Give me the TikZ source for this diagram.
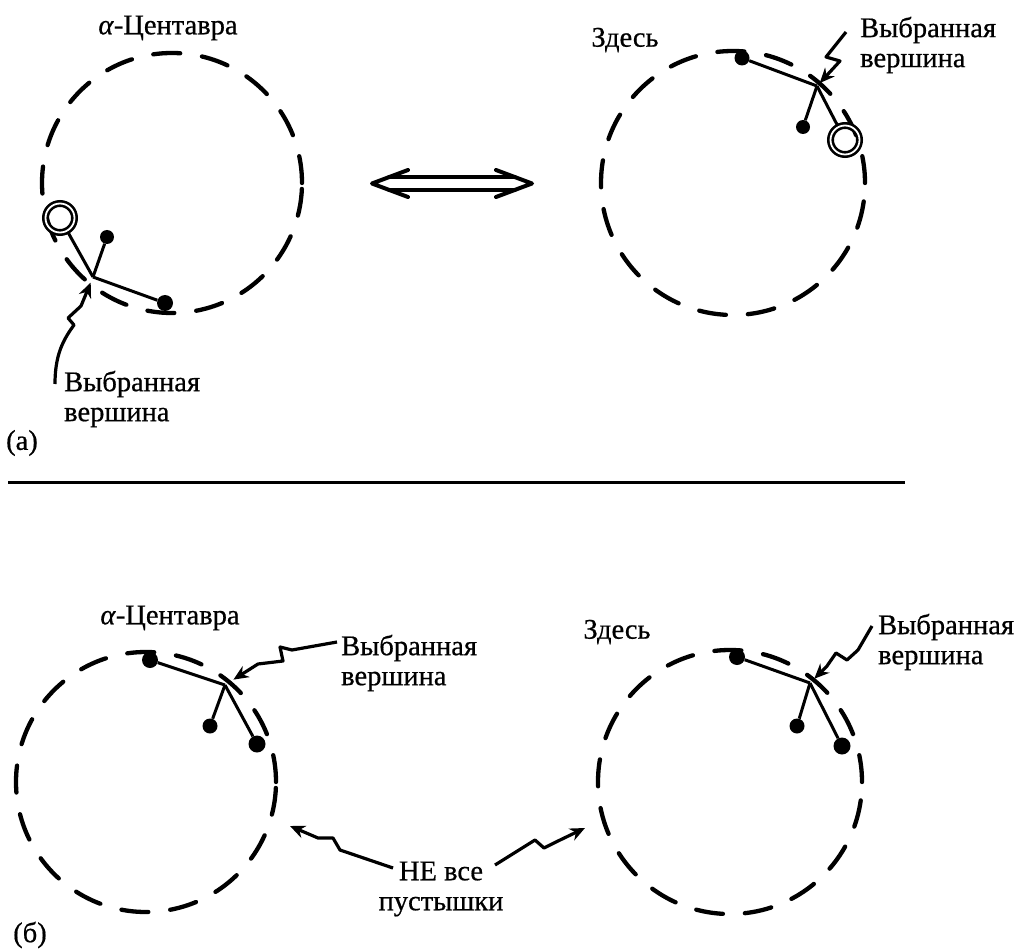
\documentclass[tikz,border=0pt]{standalone}
\usepackage{fontspec}
\setmainfont[FakeBold=0.6]{Liberation Serif}
\usetikzlibrary{arrows.meta}
\begin{document}
\begin{tikzpicture}[x=1pt,y=-1pt,
  circ/.style={circle, draw, line width=4.3pt, line cap=round, dash pattern=on 27pt off 22pt, inner sep=0pt},
  br/.style={line width=3pt},
  dot/.style={circle, fill, inner sep=0pt, minimum size=15pt},
  ring/.style={circle, draw, double, double distance=1.8pt, line width=2.6pt, inner sep=0pt, minimum size=29pt},
  wavy/.style={line width=3.2pt, line join=round, -{Stealth[length=15pt,width=13pt]}},
  lbl/.style={inner sep=0pt, font=\fontsize{28.5}{30}\selectfont},
  dbl/.style={line width=4pt, line join=round, line cap=round},
]
\useasboundingbox (0,0) rectangle (1027,949);

% ---------- (a) ----------
\node[circ, minimum size=260pt] (CA) at (172,183) {};
\node[circ, minimum size=264pt] (CB) at (733,183) {};

\node[lbl] (cenA) at (168,28) {\textit{α}-Центавра};
\node[lbl] (zdA) at (625,40) {Здесь};

% tree left
\coordinate (vA) at (93,277);
\node[ring] (rA) at (60,218) {};
\node[dot, minimum size=14pt] (dA1) at (107,237) {};
\node[dot, minimum size=16pt] (dA2) at (165,303) {};
\draw[br] (vA) -- (rA);
\draw[br] (vA) -- (dA1);
\draw[br] (vA) -- (dA2);

% tree right
\coordinate (vB) at (817,86);
\node[ring] (rB) at (845,140) {};
\node[dot, minimum size=15pt] (dB1) at (742,58) {};
\node[dot, minimum size=14pt] (dB2) at (803,127) {};
\draw[br] (vB) -- (rB);
\draw[br] (vB) -- (dB1);
\draw[br] (vB) -- (dB2);

% labels
\node[lbl, anchor=west, align=left] (vybA) at (64,399) {Выбранная\\вершина};
\node[lbl, anchor=west, align=left] (vybB) at (860,45) {Выбранная\\вершина};
\coordinate (sA) at (55,384);
\coordinate (sB) at (846,32);
\draw[wavy, shorten >=6pt] (sA) .. controls (55,355) and (63,340) .. (74,325) -- (68,318) -- (81,306) -- (vA);
\draw[wavy, shorten >=4pt] (sB) -- (826,57) -- (840,61) -- (vB);

% double arrow
\coordinate (La) at (372,183.5);
\coordinate (Ra) at (532,183.5);
\draw[dbl] (408,170) -- (La) -- (408,197);
\draw[dbl] (496,170) -- (Ra) -- (496,197);
\draw[dbl] (389,177) -- (515,177);
\draw[dbl] (389,190) -- (515,190);

\node[lbl] (la) at (22,443) {(а)};
\draw[line width=3pt] (8,482) coordinate (h1) -- (905,482) coordinate (h2);

% ---------- (б) ----------
\node[circ, minimum size=260pt] (CC) at (146,782) {};
\node[circ, minimum size=264pt] (CD) at (730,782) {};

\node[lbl] (cenC) at (170,618) {\textit{α}-Центавра};
\node[lbl] (zdD) at (617,632) {Здесь};

\coordinate (vC) at (225,685);
\node[dot, minimum size=16pt] (dC1) at (150,660) {};
\node[dot, minimum size=15pt] (dC2) at (210,726) {};
\node[dot, minimum size=17pt] (dC3) at (257,744) {};
\draw[br] (vC) -- (dC1);
\draw[br] (vC) -- (dC2);
\draw[br] (vC) -- (dC3);

\coordinate (vD) at (810,683);
\node[dot, minimum size=16pt] (dD1) at (737,657) {};
\node[dot, minimum size=15pt] (dD2) at (797,726) {};
\node[dot, minimum size=17pt] (dD3) at (842,746) {};
\draw[br] (vD) -- (dD1);
\draw[br] (vD) -- (dD2);
\draw[br] (vD) -- (dD3);

\node[lbl, anchor=west, align=left] (vybC) at (341,663) {Выбранная\\вершина};
\node[lbl, anchor=west, align=left] (vybD) at (878,642) {Выбранная\\вершина};
\coordinate (sC) at (337,642);
\coordinate (sD) at (872,626);
\draw[wavy, shorten >=10pt] (sC) -- (292,650) -- (280,647) -- (283,661) -- (258,664) -- (vC);
\draw[wavy, shorten >=6pt] (sD) -- (858,650) -- (847,660) -- (836,653) -- (827,666) -- (vD);

\node[lbl, align=center] (ne) at (441,889) {НЕ все\\пустышки};
\coordinate (sE) at (393,868);
\coordinate (tE) at (290,826);
\coordinate (sF) at (495,865);
\coordinate (tF) at (585,828);
\draw[wavy] (sE) -- (340,850) -- (333,838) -- (318,838) -- (tE);
\draw[wavy] (sF) -- (535,840) -- (544,848) -- (558,841) -- (tF);

\node[lbl] (lb) at (30,935) {(б)};
\end{tikzpicture}
\end{document}
